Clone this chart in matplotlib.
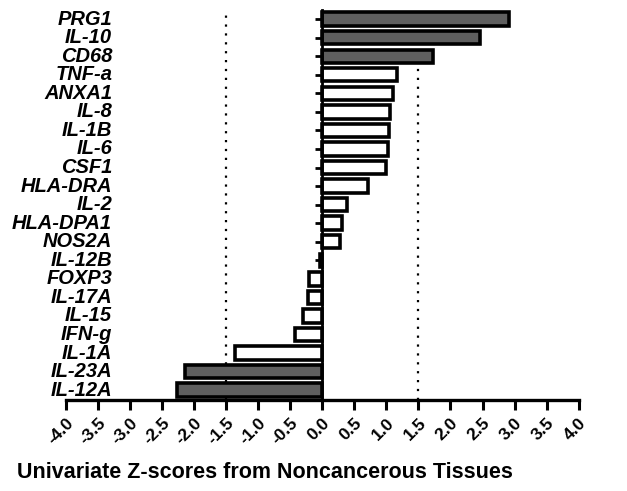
import matplotlib
matplotlib.use("Agg")
from matplotlib import pyplot as plt
from matplotlib import transforms

plt.rcParams['font.family'] = ['Liberation Sans', 'DejaVu Sans']

genes = ["PRG1", "IL-10", "CD68", "TNF-a", "ANXA1", "IL-8", "IL-1B", "IL-6",
         "CSF1", "HLA-DRA", "IL-2", "HLA-DPA1", "NOS2A", "IL-12B", "FOXP3",
         "IL-17A", "IL-15", "IFN-g", "IL-1A", "IL-23A", "IL-12A"]
zscores = [2.92, 2.46, 1.73, 1.17, 1.11, 1.06, 1.04, 1.02, 1.00, 0.72, 0.39,
           0.31, 0.27, -0.03, -0.20, -0.22, -0.30, -0.42, -1.36, -2.14, -2.26]
threshold = 1.5
xticks = [x / 2 for x in range(-8, 9)]

fig = plt.figure(figsize=(6.27, 4.91), dpi=100)
ax = fig.add_axes([0.105, 0.185, 0.818, 0.795])

ypos = list(range(len(genes)))
colors = ["#5f5f5f" if abs(z) > threshold else "white" for z in zscores]
ax.barh(ypos, zscores, height=0.72, color=colors, edgecolor="black",
        linewidth=2.6, zorder=2)

# dotted cut-offs
ax.axvline(-threshold, color="black", linestyle=(0, (1, 3)), linewidth=1.6, zorder=1)
ax.axvline(threshold, color="black", linestyle=(0, (1, 3)), linewidth=1.6, zorder=1)

ax.set_xlim(-4, 4)
ax.set_ylim(len(genes) - 0.46, -0.5)

ax.spines["top"].set_visible(False)
ax.spines["right"].set_visible(False)
ax.spines["left"].set_position(("data", 0))
ax.spines["left"].set_linewidth(2.0)
ax.spines["left"].set_zorder(3)
ax.spines["bottom"].set_linewidth(2.4)

ax.set_yticks(ypos)
ax.set_yticklabels([])
ax.tick_params(axis="y", length=5, width=2, direction="out")
ax.set_xticks(xticks)
ax.set_xticklabels([f"{t:.1f}" for t in xticks], rotation=45, ha="right",
                   rotation_mode="anchor", fontsize=12.5, fontweight="bold")
ax.tick_params(axis="x", length=7, width=2.2, direction="out", pad=4)

trans = transforms.blended_transform_factory(fig.transFigure, ax.transData)
for y, g in zip(ypos, genes):
    fig.text(0.179, y, g, transform=trans, ha="right", va="center",
             fontsize=14.5, fontweight="bold", fontstyle="italic")

fig.text(0.423, 0.037, "Univariate Z-scores from Noncancerous Tissues",
         ha="center", va="center", fontsize=15.5, fontweight="bold")

fig.savefig("out.png", dpi=100)
